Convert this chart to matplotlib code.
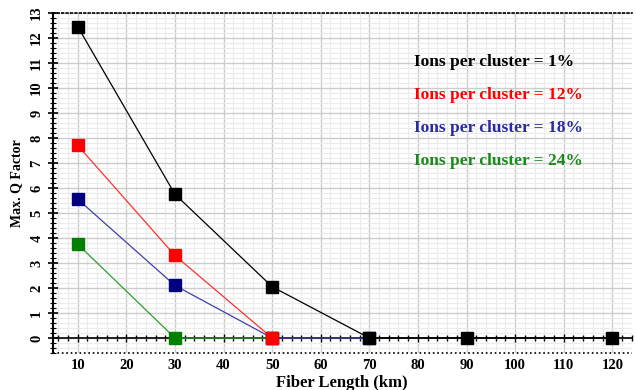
import matplotlib.pyplot as plt
from matplotlib.ticker import MultipleLocator

# Max Q factor vs fiber length for several ion cluster percentages
fiber_1 = [10, 30, 50, 70, 90, 120]
q_1 = [12.45, 5.75, 2.05, 0, 0, 0]

fiber_12 = [10, 30, 50]
q_12 = [7.7, 3.3, 0]

fiber_18 = [10, 30, 50, 70]
q_18 = [5.55, 2.1, 0, 0]

fiber_24 = [10, 30, 50]
q_24 = [3.75, 0, 0]

labels = ["Ions per cluster = 1%", "Ions per cluster = 12%",
          "Ions per cluster = 18%", "Ions per cluster = 24%"]
x_ticks = [10, 20, 30, 40, 50, 60, 70, 80, 90, 100, 110, 120]
y_ticks = list(range(0, 14))

plt.rcParams["font.family"] = ["Liberation Serif", "DejaVu Serif"]
plt.rcParams["font.weight"] = "bold"

fig = plt.figure(figsize=(6.36, 3.9), dpi=100)
ax = fig.add_axes([0.0833, 0.0949, 0.910, 0.8718])

ax.set_xlim(4.9, 124)
ax.set_ylim(-0.6, 13)

ax.xaxis.set_major_locator(MultipleLocator(10))
ax.xaxis.set_minor_locator(MultipleLocator(2))
ax.yaxis.set_major_locator(MultipleLocator(1))
ax.yaxis.set_minor_locator(MultipleLocator(0.2))
ax.grid(which="major", color="#cccccc", linewidth=1.0, zorder=0)
ax.grid(which="minor", color="#ebebeb", linewidth=0.8, zorder=0)

series = [
    (fiber_24, q_24, "#2ca02c", "#008000"),
    (fiber_18, q_18, "#4040a8", "#000080"),
    (fiber_12, q_12, "#ff3030", "#ff0000"),
    (fiber_1, q_1, "#000000", "#000000"),
]
for xs, ys, lc, mc in series:
    ax.plot(xs, ys, color=lc, linewidth=0.9, zorder=3)
    ax.plot(xs, ys, linestyle="none", marker="s", markersize=8.5,
            markerfacecolor=mc, markeredgecolor=mc, zorder=4,
            clip_on=False)

ax.spines["right"].set_visible(False)
ax.spines["top"].set_linestyle(":")
ax.spines["top"].set_linewidth(1.2)
ax.spines["bottom"].set_position(("data", 0))
ax.spines["bottom"].set_linewidth(1.2)
ax.spines["left"].set_linewidth(1.5)

# dotted line at the bottom of the frame
ax.axhline(-0.6, color="black", linestyle=":", linewidth=1.2, clip_on=False)

ax.tick_params(axis="x", which="both", direction="inout", length=6,
               width=1, labelsize=10.5, pad=12)
ax.tick_params(axis="x", which="minor", length=5)
ax.tick_params(axis="y", which="major", direction="inout", length=7,
               width=1.2, labelsize=10.5)
ax.tick_params(axis="y", which="minor", direction="inout", length=5,
               width=0.8)
ax.set_xticks(x_ticks)
ax.set_yticks(y_ticks)
for lab in ax.get_yticklabels():
    lab.set_rotation(90)
    lab.set_va("center")
for lab in ax.get_xticklabels() + ax.get_yticklabels():
    lab.set_fontweight("bold")

fig.text(0.538, 0.019, "Fiber Length (km)", fontsize=12, fontweight="bold",
         ha="center", va="center")
ax.set_ylabel("Max. Q Factor", fontsize=10, fontweight="bold")
ax.yaxis.set_label_coords(-0.052, 0.5)

colors = ["#000000", "#ff0000", "#2a2aa0", "#1a8a1a"]
y_pos = [11.05, 9.72, 8.4, 7.08]
for text, c, yp in zip(labels, colors, y_pos):
    ax.text(79.2, yp, text, color=c, fontsize=12.5, fontweight="bold",
            va="center", ha="left", zorder=5)

fig.savefig("out.png", dpi=100)
